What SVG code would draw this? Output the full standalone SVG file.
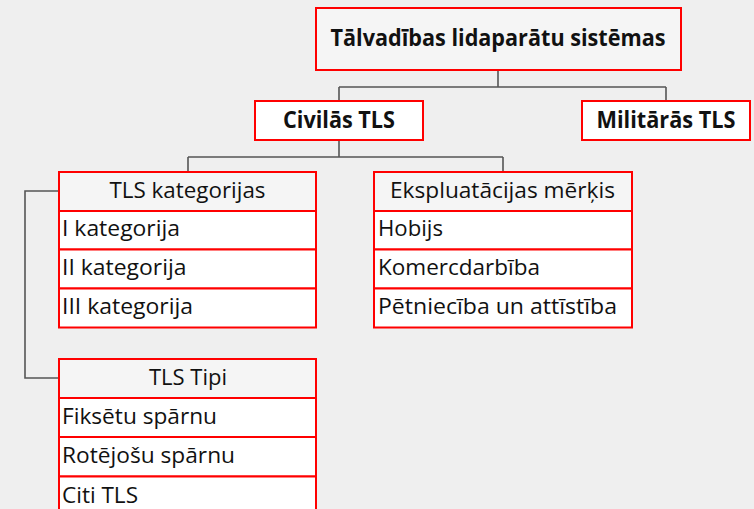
<svg xmlns="http://www.w3.org/2000/svg" width="754" height="509" viewBox="0 0 754 509">
<style>
.bg{fill:#efefef}
.box{stroke:#ff0000;stroke-width:2}
.hdr{fill:#f5f5f5}
.row{fill:#ffffff}
.conn{fill:none;stroke:#555555;stroke-width:1.6}
text{font-family:"Open Sans","Liberation Sans",sans-serif;fill:#111111}
.b{font-weight:bold;font-size:23px}
.t{font-size:21px}
</style>
<rect class="bg" x="0" y="0" width="754" height="509"/>
<g id="connectors">
<path class="conn" d="M498 70 V87 M339 87 H666 M339 87 V101 M666 87 V101"/>
<path class="conn" d="M339 140 V157 M188 157 H503 M188 157 V172 M503 157 V172"/>
<path class="conn" d="M59 191 H25 V378 H59"/>
</g>
<g id="root">
<rect class="box hdr" x="316" y="8" width="365" height="62"/>
<text class="b" x="498" y="46" text-anchor="middle" textLength="335" lengthAdjust="spacingAndGlyphs">Tālvadības lidaparātu sistēmas</text>
</g>
<g id="civilas">
<rect class="box row" x="255" y="101" width="168" height="39"/>
<text class="b" x="339" y="128" text-anchor="middle" textLength="112" lengthAdjust="spacingAndGlyphs">Civilās TLS</text>
</g>
<g id="militaras">
<rect class="box row" x="582" y="101" width="168" height="39"/>
<text class="b" x="666" y="128" text-anchor="middle" textLength="139" lengthAdjust="spacingAndGlyphs">Militārās TLS</text>
</g>
<g id="kategorijas">
<rect class="box hdr" x="59" y="172" width="257" height="39"/>
<rect class="box row" x="59" y="211" width="257" height="38.5"/>
<rect class="box row" x="59" y="249.5" width="257" height="39"/>
<rect class="box row" x="59" y="288.5" width="257" height="39"/>
<text class="t" x="187.5" y="198" text-anchor="middle" textLength="156" lengthAdjust="spacingAndGlyphs">TLS kategorijas</text>
<text class="t" x="62" y="236" textLength="118" lengthAdjust="spacingAndGlyphs">I kategorija</text>
<text class="t" x="62" y="275" textLength="124.5" lengthAdjust="spacingAndGlyphs">II kategorija</text>
<text class="t" x="62" y="314" textLength="131" lengthAdjust="spacingAndGlyphs">III kategorija</text>
</g>
<g id="merkis">
<rect class="box hdr" x="374" y="172" width="258" height="39"/>
<rect class="box row" x="374" y="211" width="258" height="38.5"/>
<rect class="box row" x="374" y="249.5" width="258" height="39"/>
<rect class="box row" x="374" y="288.5" width="258" height="39"/>
<text class="t" x="502.5" y="198" text-anchor="middle" textLength="225" lengthAdjust="spacingAndGlyphs">Ekspluatācijas mērķis</text>
<text class="t" x="378" y="236" textLength="65" lengthAdjust="spacingAndGlyphs">Hobijs</text>
<text class="t" x="378" y="275" textLength="162" lengthAdjust="spacingAndGlyphs">Komercdarbība</text>
<text class="t" x="378" y="314" textLength="239" lengthAdjust="spacingAndGlyphs">Pētniecība un attīstība</text>
</g>
<g id="tipi">
<rect class="box hdr" x="59" y="359" width="257" height="39"/>
<rect class="box row" x="59" y="398" width="257" height="39"/>
<rect class="box row" x="59" y="437" width="257" height="39.5"/>
<rect class="box row" x="59" y="476.5" width="257" height="40"/>
<text class="t" x="188" y="385" text-anchor="middle" textLength="78" lengthAdjust="spacingAndGlyphs">TLS Tipi</text>
<text class="t" x="62" y="424" textLength="155" lengthAdjust="spacingAndGlyphs">Fiksētu spārnu</text>
<text class="t" x="62" y="463" textLength="173" lengthAdjust="spacingAndGlyphs">Rotējošu spārnu</text>
<text class="t" x="62" y="502.5" textLength="76" lengthAdjust="spacingAndGlyphs">Citi TLS</text>
</g>
</svg>
